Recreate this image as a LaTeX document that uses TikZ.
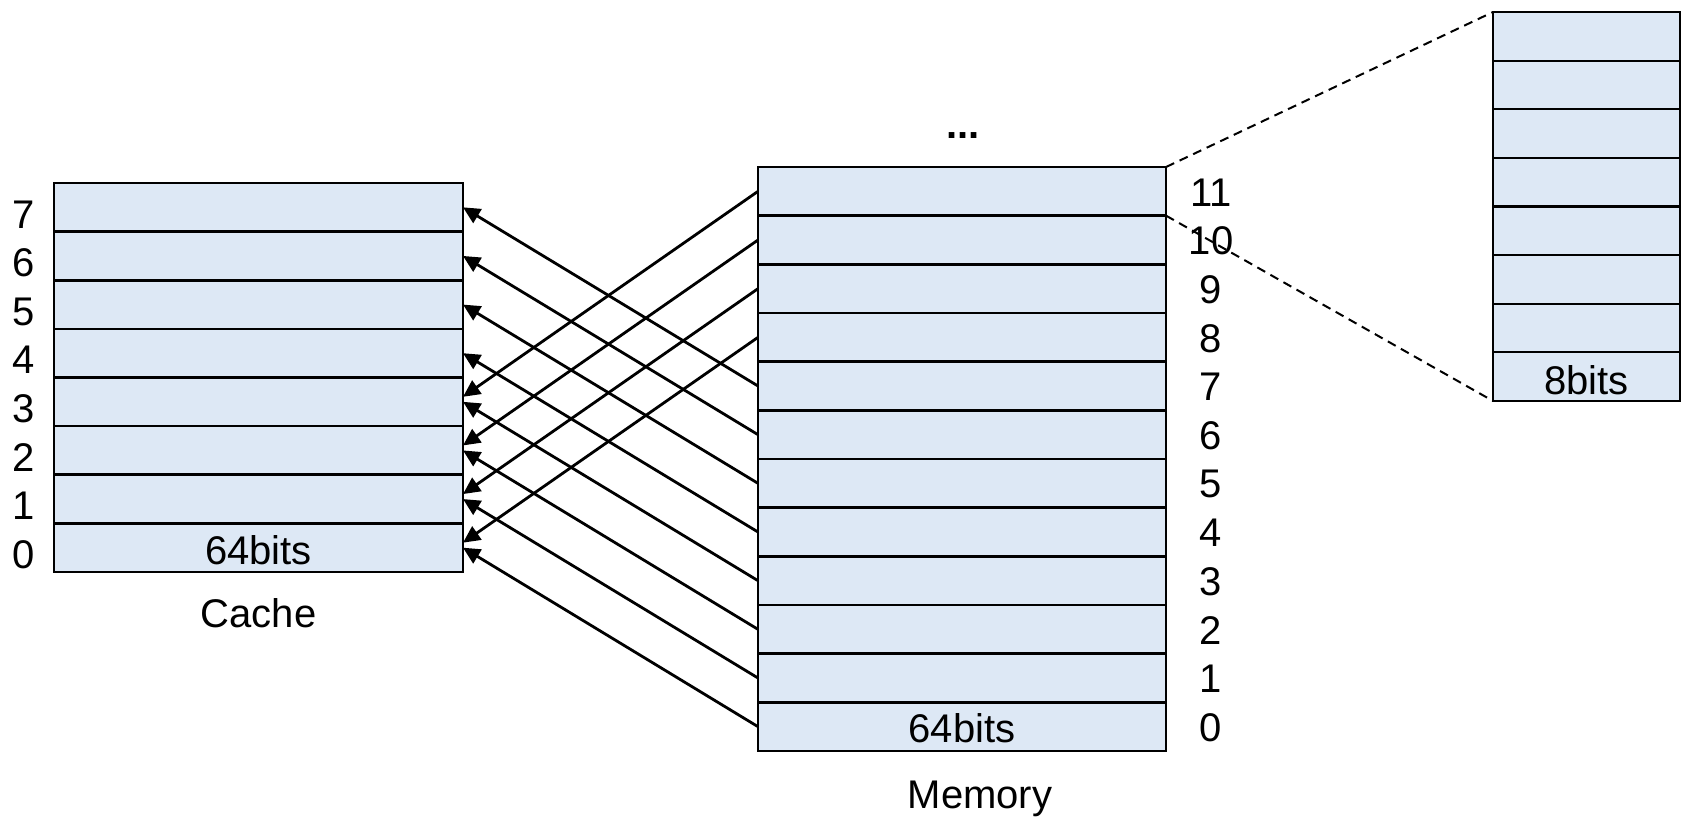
\documentclass[tikz,border=0pt]{standalone}
\usepackage{fontspec}
\setmainfont{Liberation Sans}
\usetikzlibrary{arrows.meta}
\definecolor{cellblue}{RGB}{221,232,245}
\begin{document}
\begin{tikzpicture}[x=1pt,y=-1pt,
  cell/.style={draw=black,line width=2.5pt,fill=cellblue,minimum width=#1,
    minimum height=48.6pt,inner sep=0pt,outer sep=0pt},
  smallcell/.style={cell=#1,line width=2pt,minimum height=48.6pt},
  lbl/.style={font=\fontsize{40}{48}\selectfont,inner sep=0pt},
  link/.style={line width=2.8pt,-{Triangle[length=17pt,width=16pt]}},
  zoomline/.style={line width=2pt,dash pattern=on 9pt off 6pt}]
\useasboundingbox (0,0) rectangle (1690,822);

% cache: 8 lines of 64 bits
\foreach \i in {0,...,7}
  \node[cell=409pt] (c\i) at (258.5,{572-48.625*(\i+0.5)}) {};
\foreach \i in {0,...,7}
  \node[lbl] (cl\i) at (24,{579-48.625*(\i+0.5)}) {\i};
\node[lbl] (cbits) at (258.5,550) {64bits};
\node[lbl,anchor=base] (cname) at (258.5,627) {Cache};

% memory: 12 words of 64 bits
\foreach \i in {0,...,11}
  \node[cell=408pt] (m\i) at (962,{751-48.667*(\i+0.5)}) {};
\foreach \i in {0,...,11}
  \node[lbl] (ml\i) at (1211,{752-48.667*(\i+0.5)}) {\i};
\node[lbl] (mbits) at (962,728) {64bits};
\node[lbl,anchor=base] (mname) at (980,808) {Memory};
\node[lbl,font=\fontsize{40}{48}\selectfont\bfseries,anchor=base] (dots) at (963,138) {...};

% one word split into bytes
\foreach \i in {0,...,7}
  \node[smallcell=187pt] (b\i) at (1586.5,{401-48.625*(\i+0.5)}) {};
\node[lbl] (bbits) at (1586.5,380) {8bits};

% zoom lines
\draw[zoomline] (m11.north east) -- (b7.north west);
\draw[zoomline] (m11.south east) -- (b0.south west);

% mapping memory -> cache (index mod 8)
\foreach \i in {0,...,7}
  \draw[link] (m\i.west) -- (c\i.east);
\foreach \i/\j in {8/0,9/1,10/2,11/3}
  \draw[link] (m\i.west) -- ([yshift=5pt]c\j.east);
\end{tikzpicture}
\end{document}
